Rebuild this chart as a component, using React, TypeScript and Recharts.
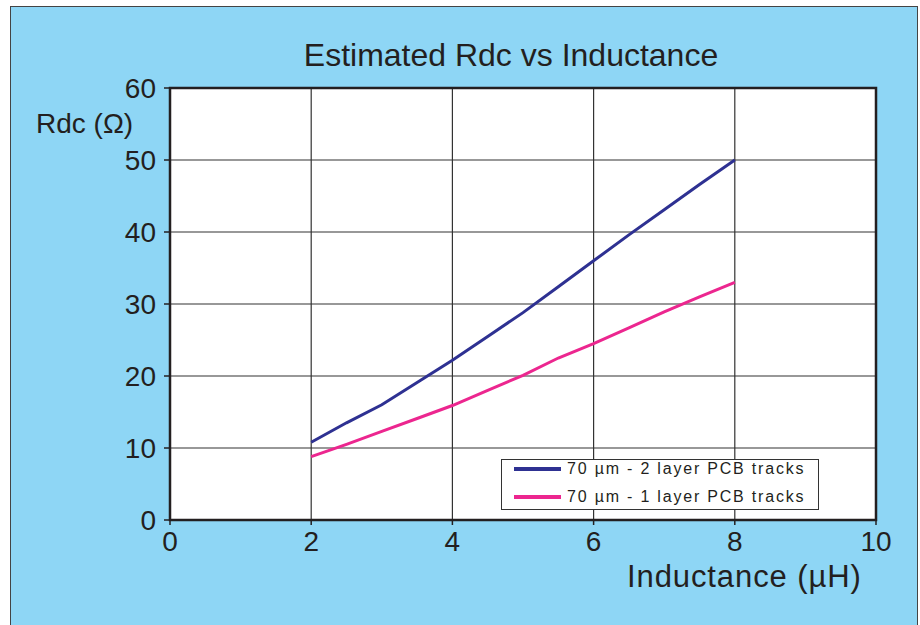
import { LineChart, Line, XAxis, YAxis, CartesianGrid, ReferenceArea } from "recharts"

const inductance = [2, 2.5, 3, 3.5, 4, 4.5, 5, 5.5, 6, 6.5, 7, 7.5, 8]
const rdcTwoLayer = [10.8, 13.5, 16.0, 19.1, 22.2, 25.5, 28.8, 32.4, 36.0, 39.6, 43.1, 46.6, 50.0]
const rdcOneLayer = [8.8, 10.5, 12.3, 14.1, 15.9, 18.0, 20.1, 22.5, 24.5, 26.7, 28.9, 31.0, 33.0]
const xTicks = [0, 2, 4, 6, 8, 10]
const yTicks = [0, 10, 20, 30, 40, 50, 60]

const seriesNames = ["70 \u00b5m - 2 layer PCB tracks", "70 \u00b5m - 1 layer PCB tracks"]
const seriesColors = ["#2e3192", "#ec268f"]

const rows = inductance.map((x, i) => ({ x, two: rdcTwoLayer[i], one: rdcOneLayer[i] }))

const font = "'Liberation Sans', Arial, sans-serif"
const ink = "#231f20"

function LegendBox() {
  return (
    <div
      style={{
        position: "absolute",
        left: 501,
        top: 459,
        width: 318,
        height: 51,
        boxSizing: "border-box",
        border: "1px solid #333",
        background: "#fff",
        fontFamily: font,
        fontSize: 16,
        letterSpacing: 1.8,
        color: ink,
        paddingLeft: 12,
      }}
    >
      {seriesNames.map((name, i) => (
        <div key={name} style={{ display: "flex", alignItems: "center", height: 22, marginTop: i === 0 ? -2 : 6 }}>
          <span style={{ display: "inline-block", width: 47, height: 3.5, background: seriesColors[i], marginRight: 6 }} />
          <span>{name}</span>
        </div>
      ))}
    </div>
  )
}

export default function App() {
  return (
    <div style={{ position: "absolute", left: 0, top: 0, width: 920, height: 625, background: "#fff", overflow: "hidden" }}>
      <div
        style={{
          position: "absolute",
          left: 10,
          top: 6,
          width: 906,
          height: 640,
          background: "#8ed6f5",
          border: "1px solid #444",
        }}
      />
      <div
        style={{
          position: "absolute",
          left: 0,
          width: 1022,
          top: 37,
          textAlign: "center",
          fontFamily: font,
          fontSize: 32,
          color: ink,
        }}
      >
        Estimated Rdc vs Inductance
      </div>
      <div style={{ position: "absolute", left: 36, top: 108, fontFamily: font, fontSize: 28, color: ink }}>
        Rdc (&Omega;)
      </div>
      <div
        style={{
          position: "absolute",
          left: 627,
          top: 559,
          fontFamily: font,
          fontSize: 31,
          letterSpacing: 0.9,
          color: ink,
        }}
      >
        Inductance (&micro;H)
      </div>
      <div style={{ position: "absolute", left: 0, top: 0 }}>
        <LineChart width={920} height={625} data={rows} margin={{ top: 88, right: 44, bottom: 65, left: 110 }}>
          <CartesianGrid stroke="#333" strokeWidth={1.2} fill="#fff" fillOpacity={1} />
          <XAxis
            type="number"
            dataKey="x"
            domain={[0, 10]}
            ticks={xTicks}
            height={40}
            tickSize={5}
            tickMargin={6}
            axisLine={false}
            tickLine={{ stroke: ink, strokeWidth: 1.5 }}
            tick={{ fontSize: 28, fill: ink, fontFamily: font }}
          />
          <YAxis
            type="number"
            domain={[0, 60]}
            ticks={yTicks}
            width={60}
            tickSize={6}
            tickMargin={8}
            axisLine={false}
            tickLine={{ stroke: ink, strokeWidth: 1.5 }}
            tick={{ fontSize: 28, fill: ink, fontFamily: font }}
          />
          <ReferenceArea x1={0} x2={10} y1={0} y2={60} fill="none" stroke={ink} strokeWidth={2.5} />
          <Line
            type="linear"
            dataKey="two"
            name={seriesNames[0]}
            stroke={seriesColors[0]}
            strokeWidth={3}
            dot={false}
            isAnimationActive={false}
          />
          <Line
            type="linear"
            dataKey="one"
            name={seriesNames[1]}
            stroke={seriesColors[1]}
            strokeWidth={3}
            dot={false}
            isAnimationActive={false}
          />
        </LineChart>
      </div>
      <LegendBox />
    </div>
  )
}
